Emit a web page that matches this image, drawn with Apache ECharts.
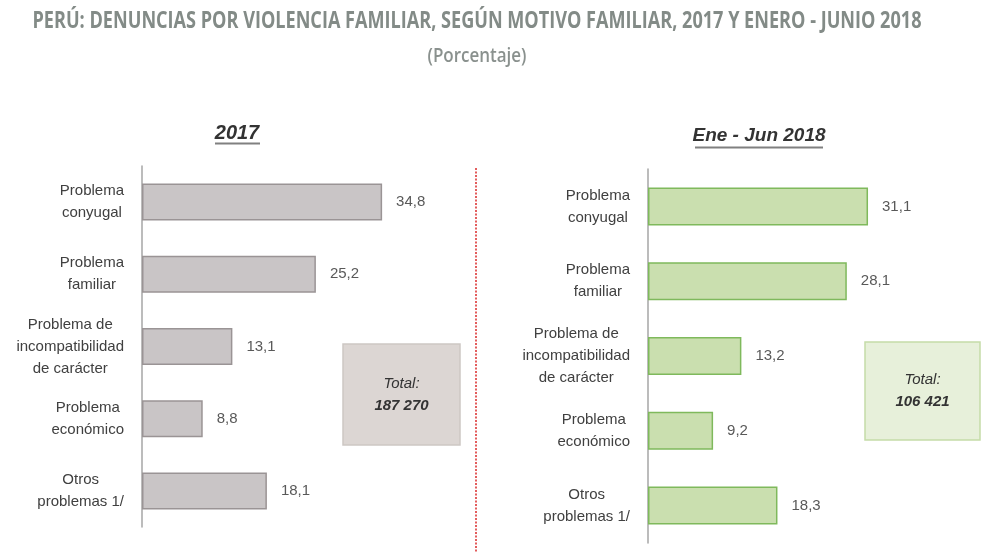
<!DOCTYPE html>
<html lang="es">
<head>
<meta charset="UTF-8">
<title>Denuncias por violencia familiar</title>
<script src="https://cdn.jsdelivr.net/npm/echarts@6/dist/echarts.min.js"></script>
<style>
  html, body { margin: 0; background: #fff; }
  #main { width: 981px; height: 552px; }
</style>
</head>
<body>
<div id="main"></div>
<script>
  // datos
  var motivos = ['Problema\nconyugal', 'Problema\nfamiliar', 'Problema de\nincompatibilidad\nde carácter', 'Problema\neconómico', 'Otros\nproblemas 1/'];
  var valores2017 = [34.8, 25.2, 13.1, 8.8, 18.1];
  var valores2018 = [31.1, 28.1, 13.2, 9.2, 18.3];
  var periodos = ['2017', 'Ene - Jun 2018'];
  var totales = ['187 270', '106 421'];
  var titulo = 'PERÚ: DENUNCIAS POR VIOLENCIA FAMILIAR, SEGÚN MOTIVO FAMILIAR, 2017 Y ENERO - JUNIO 2018';
  var subtitulo = '(Porcentaje)';

  var fuente = '"Liberation Sans", Arial, sans-serif';

  // el título original usa una fuente condensada: se comprime a lo ancho
  function anchoTexto(txt, font) {
    var ctx = document.createElement('canvas').getContext('2d');
    ctx.font = font;
    return ctx.measureText(txt).width;
  }
  var fTitulo = 'bold 23px "Open Sans"';
  var fSub = '600 20px "Open Sans"';
  var escTitulo = 889 / anchoTexto(titulo, fTitulo);
  var escSub = 99 / anchoTexto(subtitulo, fSub);

  function etiquetaCentrada(v) {
    return v.split('\n').map(function (s) { return '{c|' + s + '}'; }).join('\n');
  }
  function coma(p) {
    return p.value.toFixed(1).replace('.', ',');
  }

  function ejeY(grid) {
    return {
      type: 'category',
      gridIndex: grid,
      data: motivos,
      inverse: true,
      axisLine: { lineStyle: { color: '#a6a6a6', width: 1.5 } },
      axisTick: { show: false },
      axisLabel: {
        margin: 18,
        formatter: etiquetaCentrada,
        rich: { c: { align: 'center', fontSize: 15, lineHeight: 22, color: '#404040', fontFamily: fuente } }
      }
    };
  }

  function cajaTotal(x, y, w, h, relleno, borde, total) {
    return {
      type: 'group',
      children: [
        { type: 'rect', shape: { x: x, y: y, width: w, height: h }, style: { fill: relleno, stroke: borde, lineWidth: 1.5 } },
        { type: 'text', x: x + w / 2, y: y + h / 2 - 11, style: { text: 'Total:', fill: '#333', font: 'italic 15px ' + fuente, align: 'center', verticalAlign: 'middle', textAlign: 'center', textVerticalAlign: 'middle' } },
        { type: 'text', x: x + w / 2, y: y + h / 2 + 11, style: { text: total, fill: '#333', font: 'italic bold 15px ' + fuente, align: 'center', verticalAlign: 'middle', textAlign: 'center', textVerticalAlign: 'middle' } }
      ]
    };
  }

  var myChart = echarts.init(document.getElementById('main'));

  var option = {
    backgroundColor: '#fff',
    animation: false,
    grid: [
      { left: 142, top: 166, width: 276, height: 361 },
      { left: 648, top: 169, width: 283, height: 374 }
    ],
    xAxis: [
      { type: 'value', gridIndex: 0, min: 0, max: 40, show: false },
      { type: 'value', gridIndex: 1, min: 0, max: 40, show: false }
    ],
    yAxis: [ejeY(0), ejeY(1)],
    series: [
      {
        name: periodos[0],
        type: 'bar',
        xAxisIndex: 0,
        yAxisIndex: 0,
        data: valores2017,
        barWidth: 37,
        itemStyle: { color: '#c9c5c6', borderColor: '#9a9495', borderWidth: 1.5 },
        label: { show: true, position: 'right', distance: 14, formatter: coma, fontSize: 15, color: '#595959', fontFamily: fuente }
      },
      {
        name: periodos[1],
        type: 'bar',
        xAxisIndex: 1,
        yAxisIndex: 1,
        data: valores2018,
        barWidth: 38,
        itemStyle: { color: '#cadfaf', borderColor: '#7fb95c', borderWidth: 1.5 },
        label: { show: true, position: 'right', distance: 14, formatter: coma, fontSize: 15, color: '#595959', fontFamily: fuente }
      }
    ],
    graphic: [
      { type: 'text', x: 477, y: 21, scaleX: escTitulo, style: { text: titulo, font: fTitulo, fill: '#838b87', align: 'center', verticalAlign: 'middle', textAlign: 'center', textVerticalAlign: 'middle' } },
      { type: 'text', x: 477, y: 56, scaleX: escSub, style: { text: subtitulo, font: fSub, fill: '#8a918e', align: 'center', verticalAlign: 'middle', textAlign: 'center', textVerticalAlign: 'middle' } },
      { type: 'text', x: 237, y: 133, style: { text: periodos[0], font: 'italic bold 20px ' + fuente, fill: '#333', align: 'center', verticalAlign: 'middle', textAlign: 'center', textVerticalAlign: 'middle' } },
      { type: 'line', shape: { x1: 215, y1: 143.5, x2: 260, y2: 143.5 }, style: { stroke: '#808080', lineWidth: 2 } },
      { type: 'text', x: 759, y: 136, style: { text: periodos[1], font: 'italic bold 19px ' + fuente, fill: '#333', align: 'center', verticalAlign: 'middle', textAlign: 'center', textVerticalAlign: 'middle' } },
      { type: 'line', shape: { x1: 695, y1: 147.5, x2: 823, y2: 147.5 }, style: { stroke: '#808080', lineWidth: 2 } },
      // separador punteado
      { type: 'line', shape: { x1: 476, y1: 168, x2: 476, y2: 552 }, style: { stroke: '#e35d5d', lineWidth: 2, lineDash: [2, 1.5] } },
      cajaTotal(343, 344, 117, 101, '#dcd6d3', '#cdc7c4', totales[0]),
      cajaTotal(865, 342, 115, 98, '#e7f0da', '#c5dca8', totales[1])
    ]
  };

  myChart.setOption(option);
</script>
</body>
</html>
